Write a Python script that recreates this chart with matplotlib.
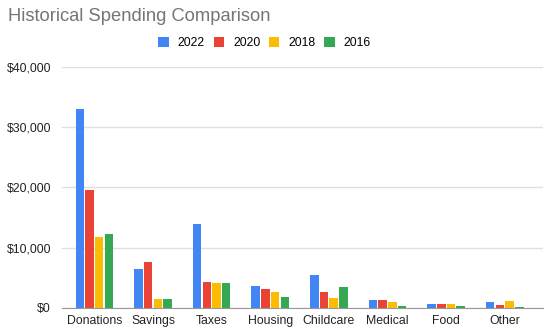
import numpy as np
import matplotlib
matplotlib.use("Agg")
import matplotlib.pyplot as plt
from matplotlib.ticker import FuncFormatter

plt.rcParams['font.family'] = ['Liberation Sans', 'DejaVu Sans']

# data
categories = ['Donations', 'Savings', 'Taxes', 'Housing', 'Childcare', 'Medical', 'Food', 'Other']
years = ['2022', '2020', '2018', '2016']
spend_2022 = [33000, 6500, 14000, 3700, 5400, 1270, 700, 1000]
spend_2020 = [19600, 7600, 4300, 3200, 2700, 1250, 700, 550]
spend_2018 = [11700, 1450, 4100, 2700, 1600, 1000, 650, 1150]
spend_2016 = [12200, 1450, 4100, 1800, 3500, 380, 250, 200]
colors = ['#4285F4', '#EA4335', '#FBBC04', '#34A853']

series = [spend_2022, spend_2020, spend_2018, spend_2016]

fig = plt.figure(figsize=(5.5, 3.35), dpi=100)
ax = fig.add_axes([0.113, 0.081, 0.874, 0.719])

x = np.arange(len(categories))
bar_w = 0.145
step = 0.165
for i, (vals, yr, col) in enumerate(zip(series, years, colors)):
    offs = (i - 1.5) * step
    ax.bar(x + offs, vals, width=bar_w, color=col, label=yr, zorder=3)

ax.set_xlim(-0.55, len(categories) - 0.35)
ax.set_ylim(0, 40000)
ax.set_yticks([0, 10000, 20000, 30000, 40000])
ax.yaxis.set_major_formatter(FuncFormatter(lambda v, p: '${:,.0f}'.format(v)))
ax.set_xticks(x)
ax.set_xticklabels(categories)
ax.tick_params(axis='both', length=0, labelsize=8.8, colors='#222222')
ax.tick_params(axis='y', pad=8)
ax.tick_params(axis='x', pad=5)
ax.grid(axis='y', color='#e0e0e0', linewidth=1, zorder=0)
for s in ['top', 'right', 'left']:
    ax.spines[s].set_visible(False)
ax.spines['bottom'].set_color('#999999')
ax.spines['bottom'].set_zorder(4)

fig.text(0.015, 0.95, 'Historical Spending Comparison', fontsize=13.2, color='#757575', va='center')
fig.legend(loc='center', bbox_to_anchor=(0.481, 0.872), ncol=4, frameon=False,
           fontsize=8.8, handlelength=0.85, handleheight=0.85, columnspacing=0.7,
           handletextpad=0.75)

fig.savefig('out.png', dpi=100)
